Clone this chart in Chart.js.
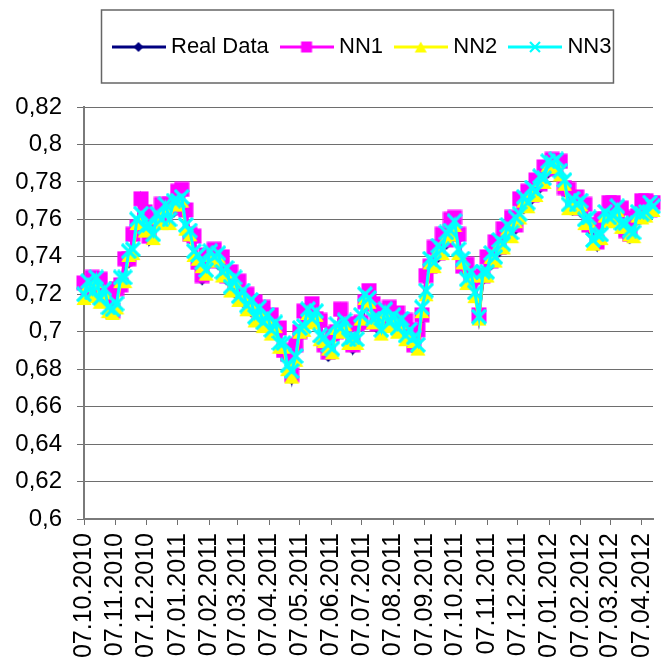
<!DOCTYPE html>
<html>
<head>
<meta charset="utf-8">
<script src="https://cdn.jsdelivr.net/npm/chart.js@4.4.1/dist/chart.umd.min.js"></script>
<style>
html,body{margin:0;padding:0;background:#fff;}
canvas{display:block;}
</style>
</head>
<body>
<canvas id="c" width="663" height="660"></canvas>
<script>
// ---------- DATA ----------
const seriesNames = ['Real Data', 'NN1', 'NN2', 'NN3'];

// day offsets from 07.10.2010
const dayOffsets = [0,4,8,12,16,20,24,28,32,36,40,44,48,52,56,60,64,68,72,76,
  80,84,88,92,96,100,104,108,112,116,120,124,128,132,136,140,144,148,152,156,
  160,164,168,172,176,180,184,188,192,196,200,204,208,212,216,220,224,228,232,236,
  240,244,248,252,256,260,264,268,272,276,280,284,288,292,296,300,304,308,312,316,
  320,324,328,332,336,340,344,348,352,356,360,364,368,372,376,380,384,388,392,396,
  400,404,408,412,416,420,424,428,432,436,440,444,448,452,456,460,464,468,472,476,
  480,484,488,492,496,500,504,508,512,516,520,524,528,532,536,540,544,548,552,556,559];

const realData = [0.724,0.719,0.727,0.721,0.726,0.717,0.719,0.710,0.721,0.723,
  0.737,0.737,0.750,0.754,0.771,0.762,0.749,0.758,0.757,0.766,
  0.760,0.766,0.764,0.774,0.776,0.763,0.750,0.749,0.735,0.728,
  0.739,0.737,0.744,0.736,0.738,0.728,0.730,0.721,0.725,0.716,
  0.718,0.711,0.714,0.707,0.711,0.703,0.707,0.699,0.700,0.688,
  0.686,0.675,0.691,0.698,0.709,0.706,0.715,0.705,0.704,0.691,
  0.687,0.697,0.698,0.710,0.700,0.702,0.691,0.702,0.703,0.714,
  0.722,0.713,0.702,0.709,0.706,0.711,0.703,0.708,0.701,0.704,
  0.695,0.691,0.699,0.707,0.728,0.733,0.743,0.740,0.750,0.747,
  0.758,0.761,0.750,0.733,0.734,0.726,0.727,0.708,0.728,0.738,
  0.736,0.746,0.743,0.753,0.751,0.759,0.755,0.769,0.766,0.773,
  0.771,0.779,0.777,0.786,0.785,0.792,0.789,0.790,0.775,0.774,
  0.765,0.772,0.764,0.766,0.755,0.755,0.746,0.758,0.758,0.767,
  0.768,0.761,0.764,0.752,0.750,0.759,0.760,0.769,0.770,0.763,0.767];

const nn1 = [0.726,0.721,0.729,0.723,0.728,0.719,0.721,0.711,0.723,0.725,
  0.739,0.739,0.752,0.756,0.771,0.764,0.751,0.760,0.759,0.768,
  0.762,0.768,0.766,0.775,0.776,0.765,0.752,0.751,0.737,0.730,
  0.741,0.739,0.744,0.738,0.740,0.730,0.732,0.723,0.727,0.718,
  0.720,0.713,0.716,0.709,0.713,0.705,0.709,0.701,0.702,0.690,
  0.688,0.677,0.693,0.700,0.711,0.708,0.715,0.707,0.706,0.693,
  0.689,0.699,0.700,0.712,0.702,0.704,0.693,0.704,0.705,0.716,
  0.722,0.715,0.704,0.711,0.708,0.713,0.705,0.710,0.703,0.706,
  0.697,0.693,0.701,0.709,0.730,0.735,0.745,0.742,0.752,0.749,
  0.760,0.761,0.752,0.735,0.736,0.728,0.729,0.709,0.730,0.740,
  0.738,0.748,0.745,0.755,0.753,0.761,0.757,0.771,0.768,0.775,
  0.773,0.781,0.779,0.788,0.787,0.792,0.791,0.791,0.777,0.776,
  0.767,0.772,0.766,0.768,0.757,0.757,0.748,0.760,0.760,0.769,
  0.769,0.763,0.766,0.754,0.752,0.761,0.762,0.770,0.770,0.765,0.769];

const nn2 = [0.718,0.725,0.719,0.727,0.716,0.721,0.711,0.710,0.713,0.727,
  0.727,0.741,0.742,0.758,0.761,0.754,0.755,0.750,0.761,0.758,
  0.766,0.758,0.768,0.768,0.770,0.755,0.752,0.741,0.739,0.735,
  0.731,0.741,0.738,0.740,0.730,0.732,0.722,0.727,0.717,0.720,
  0.712,0.715,0.706,0.711,0.703,0.707,0.699,0.703,0.692,0.692,
  0.680,0.676,0.685,0.700,0.701,0.710,0.705,0.709,0.696,0.695,
  0.691,0.689,0.702,0.700,0.704,0.694,0.695,0.694,0.707,0.718,
  0.716,0.705,0.706,0.699,0.710,0.703,0.707,0.700,0.705,0.696,
  0.699,0.695,0.691,0.711,0.720,0.737,0.735,0.744,0.742,0.751,
  0.752,0.757,0.742,0.737,0.726,0.730,0.719,0.707,0.730,0.730,
  0.740,0.738,0.747,0.745,0.755,0.751,0.759,0.761,0.770,0.767,
  0.775,0.773,0.781,0.780,0.789,0.788,0.790,0.784,0.779,0.766,
  0.769,0.766,0.768,0.758,0.759,0.747,0.750,0.750,0.762,0.759,
  0.760,0.765,0.756,0.756,0.752,0.751,0.762,0.761,0.762,0.767,0.765];

const nn3 = [0.720,0.727,0.721,0.729,0.718,0.723,0.713,0.712,0.715,0.729,
  0.729,0.743,0.744,0.760,0.763,0.756,0.757,0.752,0.763,0.760,
  0.768,0.760,0.770,0.770,0.772,0.757,0.754,0.743,0.741,0.737,
  0.733,0.743,0.740,0.742,0.732,0.734,0.724,0.729,0.719,0.722,
  0.714,0.717,0.708,0.713,0.705,0.709,0.701,0.705,0.694,0.694,
  0.682,0.679,0.687,0.702,0.703,0.712,0.707,0.711,0.698,0.697,
  0.693,0.691,0.704,0.702,0.706,0.696,0.697,0.696,0.709,0.720,
  0.718,0.707,0.708,0.701,0.712,0.705,0.709,0.702,0.707,0.698,
  0.701,0.697,0.693,0.713,0.722,0.739,0.737,0.746,0.744,0.753,
  0.754,0.759,0.744,0.739,0.728,0.732,0.721,0.708,0.732,0.732,
  0.742,0.740,0.749,0.747,0.757,0.753,0.761,0.763,0.772,0.769,
  0.777,0.775,0.783,0.782,0.791,0.790,0.792,0.786,0.781,0.768,
  0.771,0.768,0.770,0.760,0.761,0.749,0.752,0.752,0.764,0.761,
  0.762,0.767,0.758,0.758,0.754,0.753,0.764,0.763,0.764,0.769,0.767];

const xTickLabels = ['07.10.2010','07.11.2010','07.12.2010','07.01.2011','07.02.2011',
  '07.03.2011','07.04.2011','07.05.2011','07.06.2011','07.07.2011','07.08.2011',
  '07.09.2011','07.10.2011','07.11.2011','07.12.2011','07.01.2012','07.02.2012',
  '07.03.2012','07.04.2012'];
const xMaxDay = 559;
const yMin = 0.6, yMax = 0.82, yStep = 0.02;

// ---------- HELPERS ----------
function parseDMY(s){ const p = s.split('.'); return Date.UTC(+p[2], +p[1]-1, +p[0]); }
const t0 = parseDMY(xTickLabels[0]);
const xTickDays = xTickLabels.map(s => Math.round((parseDMY(s) - t0) / 86400000));

const FONT = "'Liberation Sans', Arial, Helvetica, sans-serif";
const colors = ['#000080', '#ff00ff', '#ffff00', '#00ffff'];
const kinds = ['diamond', 'square', 'triangle', 'x'];

function markerCanvas(kind, color, w, h, cw, ch, withLine, xw) {
  const c = document.createElement('canvas');
  c.width = cw; c.height = ch;
  const g = c.getContext('2d');
  const cx = cw / 2, cy = ch / 2, hw = w / 2, hh = h / 2;
  if (withLine) {
    g.strokeStyle = color; g.lineWidth = 3;
    g.beginPath(); g.moveTo(0, cy); g.lineTo(cw, cy); g.stroke();
  }
  g.fillStyle = color; g.strokeStyle = color;
  g.beginPath();
  if (kind === 'square') {
    g.fillRect(cx - hw, cy - hh, w, h);
  } else if (kind === 'diamond') {
    g.moveTo(cx, cy - hh); g.lineTo(cx + hw, cy); g.lineTo(cx, cy + hh); g.lineTo(cx - hw, cy);
    g.closePath(); g.fill();
  } else if (kind === 'triangle') {
    g.moveTo(cx, cy - hh); g.lineTo(cx + hw, cy + hh); g.lineTo(cx - hw, cy + hh);
    g.closePath(); g.fill();
  } else if (kind === 'x') {
    g.lineWidth = xw || 2.5;
    g.moveTo(cx - hw, cy - hh); g.lineTo(cx + hw, cy + hh);
    g.moveTo(cx + hw, cy - hh); g.lineTo(cx - hw, cy + hh);
    g.stroke();
  }
  return c;
}

const pointSizes = [[12,12],[15,15],[15,14],[14,14]];
const pointIcons = kinds.map((k, i) => markerCanvas(k, colors[i], pointSizes[i][0], pointSizes[i][1], 16, 16, false, 3.2));
const legendSizes = [[10,10],[11,11],[12,11],[10,10]];
const legendIcons = kinds.map((k, i) => markerCanvas(k, colors[i], legendSizes[i][0], legendSizes[i][1], 54, 14, true, 2.2));

const allSeries = [realData, nn1, nn2, nn3];
const datasets = allSeries.map((arr, i) => ({
  label: seriesNames[i],
  data: dayOffsets.map((d, j) => ({ x: d, y: arr[j] })),
  borderColor: colors[i],
  backgroundColor: colors[i],
  borderWidth: 3,
  tension: 0,
  pointStyle: pointIcons[i],
  pointRadius: 7,
  pointHoverRadius: 7,
  order: 4 - i,
  clip: false
}));

const LEGEND_PAD = 16.2;
const LEGEND_BOX_W = 43;
const LEGEND_START_X = 117;
const LEGEND_BLOCK_H = 87.2;

const whiteBg = {
  id: 'whiteBg',
  beforeDraw(chart) {
    const ctx = chart.ctx;
    ctx.save(); ctx.fillStyle = '#fff'; ctx.fillRect(0, 0, chart.width, chart.height); ctx.restore();
  }
};

const legendFrame = {
  id: 'legendFrame',
  afterInit(chart) {
    const lg = chart.legend;
    const origFit = lg.fit.bind(lg);
    lg.fit = function () { origFit(); this.height = LEGEND_BLOCK_H; };
  },
  afterLayout(chart) {
    const lg = chart.legend;
    const cur = (lg.left + LEGEND_PAD + lg.right - lg.lineWidths[0]) / 2;
    const d = LEGEND_START_X - cur;
    lg.left += d; lg.right += d;
  },
  afterDraw(chart) {
    const lg = chart.legend;
    const start = (lg.left + LEGEND_PAD + lg.right - lg.lineWidths[0]) / 2;
    const cy = lg.top + LEGEND_PAD + 11;
    const left = start + LEGEND_BOX_W / 2 - 27 - 10;
    const right = start + lg.lineWidths[0] - LEGEND_PAD + 2;
    const ctx = chart.ctx;
    ctx.save();
    ctx.strokeStyle = '#666';
    ctx.lineWidth = 1.5;
    ctx.strokeRect(left, cy - 37, right - left, 73);
    ctx.restore();
  }
};

Chart.defaults.font.family = FONT;
Chart.defaults.color = '#000';

new Chart(document.getElementById('c'), {
  type: 'line',
  data: { datasets },
  plugins: [whiteBg, legendFrame],
  options: {
    responsive: false,
    animation: false,
    events: [],
    layout: { padding: { top: 19.8, left: 0, right: 0, bottom: 0 } },
    plugins: {
      tooltip: { enabled: false },
      legend: {
        display: true,
        position: 'top',
        labels: {
          usePointStyle: true,
          pointStyleWidth: LEGEND_BOX_W,
          padding: LEGEND_PAD,
          font: { size: 22, family: FONT },
          color: '#000',
          generateLabels: (chart) => chart.data.datasets.map((ds, i) => ({
            text: ds.label,
            pointStyle: legendIcons[i],
            fillStyle: ds.borderColor,
            strokeStyle: ds.borderColor,
            lineWidth: 0,
            hidden: false,
            datasetIndex: i,
            fontColor: '#000'
          }))
        }
      }
    },
    scales: {
      x: {
        type: 'linear',
        min: 0,
        max: xMaxDay,
        afterBuildTicks: (scale) => { scale.ticks = xTickDays.map(v => ({ value: v })); },
        afterFit: (scale) => { scale.paddingRight = 0; scale.paddingLeft = 0; scale.height = 141; },
        ticks: {
          autoSkip: false,
          minRotation: 90,
          maxRotation: 90,
          padding: 8,
          font: { size: 25, family: FONT },
          color: '#000',
          callback: (v, i) => xTickLabels[i]
        },
        grid: { drawOnChartArea: false, drawTicks: true, tickLength: 6, color: '#707070', lineWidth: 1 },
        border: { display: true, color: '#7a7a7a', width: 2 }
      },
      y: {
        min: yMin,
        max: yMax,
        afterFit: (scale) => { scale.width = 84; },
        ticks: {
          stepSize: yStep,
          padding: 15,
          font: { size: 24, family: FONT },
          color: '#000',
          callback: (v) => String(parseFloat(Number(v).toFixed(2))).replace('.', ',')
        },
        grid: { color: '#6e6e6e', lineWidth: 1, drawTicks: true, tickLength: 7 },
        border: { display: true, color: '#7a7a7a', width: 2 }
      }
    }
  }
});
</script>
</body>
</html>
